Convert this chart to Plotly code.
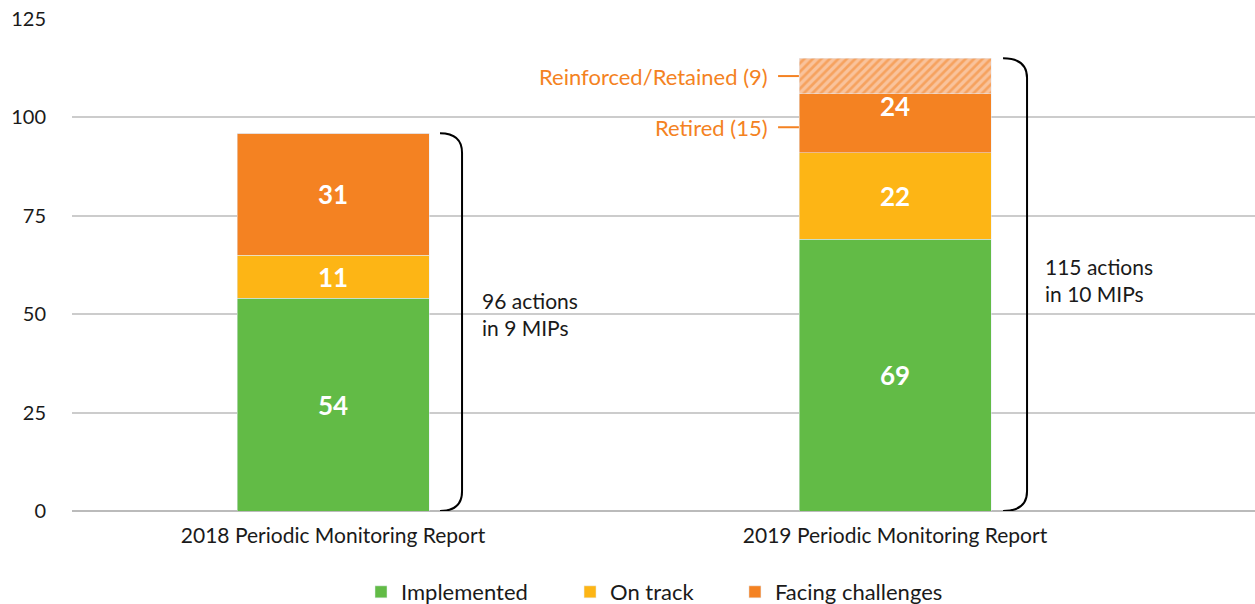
import plotly.graph_objects as go

categories = ["2018 Periodic Monitoring Report", "2019 Periodic Monitoring Report"]
implemented = [54, 69]
on_track = [11, 22]
facing = [31, 24]
reinforced = [0, 9]          # part of "facing" shown hatched (2019 only)
retired = [f - r for f, r in zip(facing, reinforced)]
totals = [96, 115]
mips = [9, 10]
y_ticks = [0, 25, 50, 75, 100, 125]

GREEN = "#62BB46"
YELLOW = "#FDB515"
ORANGE = "#F48222"
FONT = "Lato"
TXT = "#1a1a1a"

x = [0, 1]
W = 0.3416

fig = go.Figure()
fig.add_bar(x=x, y=implemented, name="Implemented", marker_color=GREEN, width=W, legend="legend",
            text=["<b>%d</b>" % v for v in implemented], textposition="inside", insidetextanchor="middle",
            textfont=dict(color="white", size=26, family=FONT))
fig.add_bar(x=x, y=on_track, name="On track", marker_color=YELLOW, width=W, legend="legend2",
            text=["<b>%d</b>" % v for v in on_track], textposition="inside", insidetextanchor="middle",
            textfont=dict(color="white", size=26, family=FONT))
fig.add_bar(x=x, y=retired, name="Facing challenges", marker_color=ORANGE, width=W, legend="legend3")
fig.add_bar(x=x, y=reinforced, name="Reinforced/Retained", showlegend=False, width=W,
            marker=dict(color=ORANGE, pattern=dict(shape="/", fgcolor=ORANGE, bgcolor="#F9C39C",
                                                   size=6, solidity=0.45)))

for i in range(2):
    base = implemented[i] + on_track[i]
    fig.add_annotation(x=x[i], y=base + facing[i] / 2, text="<b>%d</b>" % facing[i], showarrow=False,
                       font=dict(color="white", size=26, family=FONT), xanchor="center", yanchor="middle")

# brackets
bx = [(0.1904, 0.2296), (1.1922, 1.2349)]
for i in range(2):
    x0, x1 = bx[i]
    top = totals[i]
    d = 5
    path = (f"M {x0},{top} Q {x1},{top} {x1},{top - d} "
            f"L {x1},{d} Q {x1},0 {x0},0")
    fig.add_shape(type="path", path=path, xref="x", yref="y", line=dict(color="black", width=2))

tx = [0.2616, 1.2634]
ty = [50, 58.7]
for i in range(2):
    fig.add_annotation(x=tx[i], y=ty[i], text=f"{totals[i]} actions<br>in {mips[i]} MIPs", showarrow=False,
                       xanchor="left", yanchor="middle", align="left",
                       font=dict(color=TXT, size=21, family=FONT))

b19 = implemented[1] + on_track[1]
labels = [("Retired (15)", b19 + retired[1] / 2 - 1), ("Reinforced/Retained (9)", b19 + retired[1] + reinforced[1] / 2)]
for txt, yv in labels:
    fig.add_shape(type="line", x0=0.7919, x1=0.829, y0=yv, y1=yv, xref="x", yref="y",
                  line=dict(color=ORANGE, width=2))
    fig.add_annotation(x=0.7777, y=yv, text=txt, showarrow=False, xanchor="right", yanchor="middle",
                       font=dict(color=ORANGE, size=22, family=FONT))

leg_common = dict(orientation="h", y=-0.122, yanchor="top", xanchor="left",
                  font=dict(size=22, family=FONT, color=TXT), itemwidth=30, bgcolor="rgba(0,0,0,0)")

fig.update_layout(
    barmode="stack",
    width=1255, height=604,
    margin=dict(l=72, r=0, t=19, b=93, autoexpand=False),
    plot_bgcolor="white", paper_bgcolor="white",
    font=dict(family=FONT, size=20, color=TXT),
    legend=dict(x=0.2443, **leg_common),
    legend2=dict(x=0.421, **leg_common),
    legend3=dict(x=0.5604, **leg_common),
    xaxis=dict(range=[-0.4644, 1.6405], tickvals=x, ticktext=categories, showgrid=False, automargin=False,
               zeroline=False, showline=False, ticks="", ticklabelstandoff=10,
               tickfont=dict(size=21, family=FONT, color=TXT)),
    yaxis=dict(range=[0, 125], tickvals=y_ticks, showgrid=True, gridcolor="#CCCCCC", gridwidth=2,
               automargin=False,
               zeroline=True, zerolinecolor="#BBBBBB", zerolinewidth=2, ticks="", ticklabelstandoff=25,
               tickfont=dict(size=20, family=FONT, color=TXT)),
)

fig.write_html("out.html", config={"displayModeBar": False},
               post_script="document.body.style.margin='0px';")
